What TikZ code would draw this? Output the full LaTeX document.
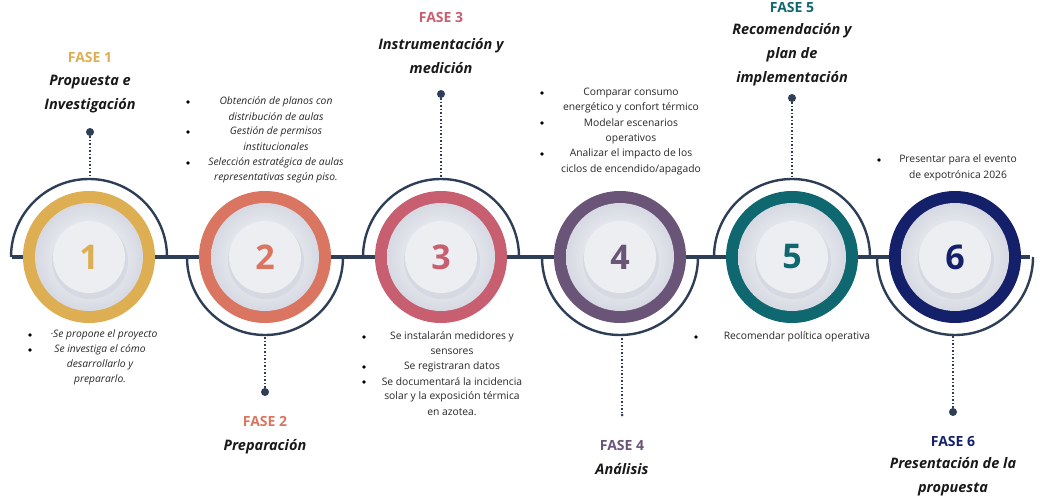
\documentclass[tikz,border=0pt]{standalone}
\usepackage{fontspec}
\setmainfont{Open Sans}
\begin{document}
\begin{tikzpicture}[x=1pt,y=-1pt,
  ln/.style={draw=lc,line width=3.5pt},
  arc/.style={draw=lc,line width=2.4pt},
  dotl/.style={draw=lc,line width=1.5pt,dotted},
  dotn/.style={circle,fill=lc,inner sep=0pt,minimum size=8pt},
  fase/.style={font=\bfseries\fontsize{14}{16}\selectfont},
  tit/.style={font=\bfseries\itshape\fontsize{14.5}{24}\selectfont,text=black!90,align=center},
  li/.style={font=\itshape\fontsize{10.3}{12}\selectfont,text=black!85},
  lr/.style={font=\fontsize{10.3}{12}\selectfont,text=black!85},
  bl/.style={circle,fill=black,inner sep=0pt,minimum size=3.6pt},
  num/.style={font=\bfseries\fontsize{34}{34}\selectfont}]
\definecolor{lc}{HTML}{2E3E56}
\definecolor{c1}{HTML}{DDAE52}
\definecolor{c2}{HTML}{D97560}
\definecolor{c3}{HTML}{C85F70}
\definecolor{c4}{HTML}{6A5477}
\definecolor{c5}{HTML}{0F6870}
\definecolor{c6}{HTML}{14216A}
\definecolor{pl}{HTML}{ECEEF2}
\definecolor{pd}{HTML}{D6D9E2}
\useasboundingbox (0,0) rectangle (1039,503);
\coordinate (L0) at (12,257); \coordinate (L1) at (1030,257);
\foreach \x/\s in {89/-1,265/1,441/-1,620/1,792/-1,955/1}{
  \draw[arc] (\x-78,257) arc[start angle=180,end angle={180-180*\s},radius=78];
}
\draw[ln] (L0) -- (L1);
\foreach \x/\c/\n [count=\i] in {89/c1/1,265/c2/2,441/c3/3,620/c4/4,792/c5/5,955/c6/6}{
  \fill[\c] (\x,257) circle[radius=66];
  \shade[inner color=white,outer color=pd] (\x,257) circle[radius=54];
  \fill[pd] (\x+1,261) circle[radius=38];
  \fill[pl] (\x,257) circle[radius=36];
  \node[num,text=\c] (n\i) at (\x,257) {\n};
}
\node[dotn] (d1) at (90,132) {}; \coordinate (a1) at (90,179);
\node[dotn] (d2) at (265,392) {}; \coordinate (a2) at (265,335);
\node[dotn] (d3) at (441,94) {}; \coordinate (a3) at (441,179);
\node[dotn,minimum size=3pt] (d4) at (622,415) {}; \coordinate (a4) at (622,335);
\node[dotn] (d5) at (792,98) {}; \coordinate (a5) at (792,179);
\node[dotn] (d6) at (953,412) {}; \coordinate (a6) at (953,335);
\foreach \i in {1,...,6}{\draw[dotl] (d\i) -- (a\i);}
\node[fase,text=c1] (f1) at (90,57) {FASE 1};
\node[tit] (t1) at (90,94) {Propuesta e\\Investigación};
\node[fase,text=c2] (f2) at (265,421) {FASE 2};
\node[tit] (t2) at (265,447) {Preparación};
\node[fase,text=c3] (f3) at (441,17) {FASE 3};
\node[tit] (t3) at (441,56) {Instrumentación y\\medición};
\node[fase,text=c4] (f4) at (622,445) {FASE 4};
\node[tit] (t4) at (622,469) {Análisis};
\node[fase,text=c5] (f5) at (792,8) {FASE 5};
\node[tit] (t5) at (792,55) {Recomendación y\\plan de\\implementación};
\node[fase,text=c6] (f6) at (953,441) {FASE 6};
\node[tit] (t6) at (953,477) {Presentación de la\\propuesta};
\node[bl] at (30,335) {}; \node[li] at (104,335) {·Se propone el proyecto};
\node[bl] at (30,350) {}; \node[li] at (100,350) {Se investiga el cómo};
\node[li] at (100,365) {desarrollarlo y};
\node[li] at (100,380) {prepararlo.};
\node[bl] at (188,102) {}; \node[li] at (276,102) {Obtención de planos con};
\node[li] at (276,117) {distribución de aulas};
\node[bl] at (188,132) {}; \node[li] at (276,132) {Gestión de permisos};
\node[li] at (276,147) {institucionales};
\node[bl] at (188,163) {}; \node[li] at (276,163) {Selección estratégica de aulas};
\node[li] at (276,178) {representativas según piso.};
\node[bl] at (364,337) {}; \node[lr] at (452,337) {Se instalarán medidores y};
\node[lr] at (452,352) {sensores};
\node[bl] at (364,367) {}; \node[lr] at (452,367) {Se registraran datos};
\node[bl] at (364,382) {}; \node[lr] at (452,382) {Se documentará la incidencia};
\node[lr] at (452,397) {solar y la exposición térmica};
\node[lr] at (452,412) {en azotea.};
\node[bl] at (542,93) {}; \node[lr] at (631,93) {Comparar consumo};
\node[lr] at (631,108) {energético y confort térmico};
\node[bl] at (542,123) {}; \node[lr] at (631,123) {Modelar escenarios};
\node[lr] at (631,139) {operativos};
\node[bl] at (542,154) {}; \node[lr] at (631,154) {Analizar el impacto de los};
\node[lr] at (631,170) {ciclos de encendido/apagado};
\node[bl] at (696,337) {}; \node[lr] at (797,337) {Recomendar política operativa};
\node[bl] at (879,160) {}; \node[lr] at (958,160) {Presentar para el evento};
\node[lr] at (958,176) {de expotrónica 2026};
\end{tikzpicture}
\end{document}
